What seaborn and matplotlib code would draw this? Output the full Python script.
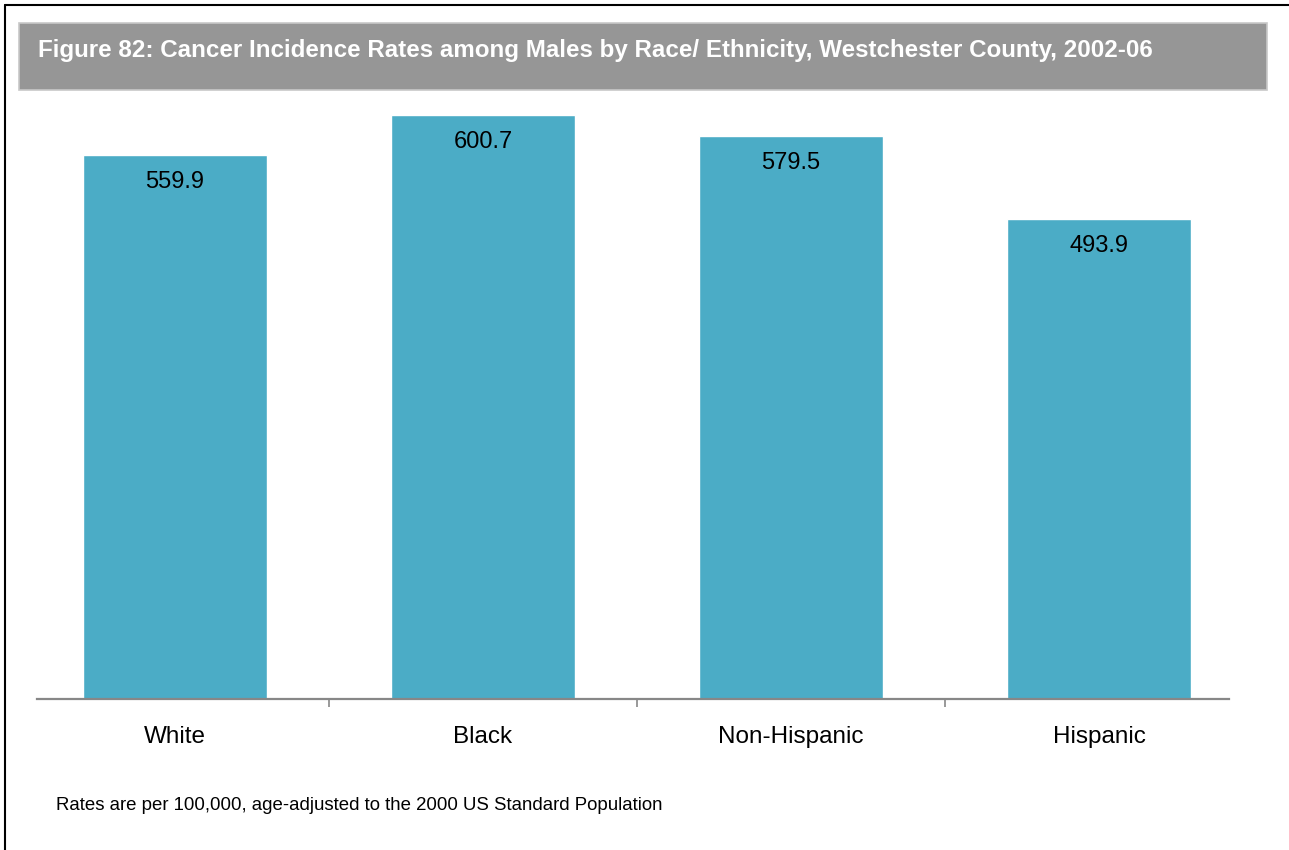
import matplotlib
matplotlib.use("Agg")
import matplotlib.pyplot as plt
from matplotlib.patches import Rectangle
from matplotlib.ticker import FixedLocator
import seaborn as sns
import pandas as pd

groups = ["White", "Black", "Non-Hispanic", "Hispanic"]
rates = [559.9, 600.7, 579.5, 493.9]
title_text = "Figure 82: Cancer Incidence Rates among Males by Race/ Ethnicity, Westchester County, 2002-06"
note_text = "Rates are per 100,000, age-adjusted to the 2000 US Standard Population"

sns.set_theme(style="white")
plt.rcParams["font.family"] = ["Liberation Sans", "DejaVu Sans"]

W, H = 1289, 850
fig = plt.figure(figsize=(W / 100, H / 100), dpi=100)
fig.patch.set_facecolor("white")

def fx(px):
    return px / W

def fy(py):
    return 1 - py / H

# outer frame (left and top edges visible)
fig.add_artist(plt.Line2D([fx(5), fx(5)], [fy(5), fy(852)], color="black", lw=1.5))
fig.add_artist(plt.Line2D([fx(5), fx(1295)], [fy(5), fy(5)], color="black", lw=1.5))

# title banner
fig.add_artist(Rectangle((fx(19), fy(90)), fx(1267 - 19), (90 - 23) / H,
                         facecolor="#969696", edgecolor="#c8c8c8", lw=1.2))
fig.text(fx(38), fy(51), title_text, color="white", fontsize=17.4,
         fontweight="bold", ha="left", va="center")

# plot area
ax_left, ax_right, ax_top, ax_bottom = 37, 1229, 100, 699
ax = fig.add_axes([fx(ax_left), fy(ax_bottom), fx(ax_right - ax_left), (ax_bottom - ax_top) / H])

df = pd.DataFrame({"group": groups, "rate": rates})
sns.barplot(data=df, x="group", y="rate", color="#4BACC6", saturation=1,
            width=0.6, ax=ax)

px_per_unit = 0.972
ax.set_ylim(0, (ax_bottom - ax_top) / px_per_unit)
ax.set_xlim(-0.448, 3.422)

for i, v in enumerate(rates):
    ax.annotate(f"{v:.1f}", xy=(i, v), xytext=(0, -27 * 0.72), textcoords="offset points",
                ha="center", va="center", fontsize=17, color="black")

for side in ["top", "right", "left"]:
    ax.spines[side].set_visible(False)
ax.spines["bottom"].set_color("#878787")
ax.spines["bottom"].set_linewidth(1.6)
ax.set_yticks([])
ax.set_xlabel("")
ax.set_ylabel("")
ax.xaxis.set_minor_locator(FixedLocator([0.5, 1.5, 2.5]))
ax.tick_params(axis="x", which="major", length=0, pad=19.5, labelsize=17.5, labelcolor="black")
ax.tick_params(axis="x", which="minor", length=6, width=1.2, color="#878787", bottom=True)
ax.set_facecolor("white")

fig.text(fx(56), fy(806), note_text, fontsize=13.4, color="black", ha="left", va="center")

fig.savefig("out.png", dpi=100, facecolor="white")
